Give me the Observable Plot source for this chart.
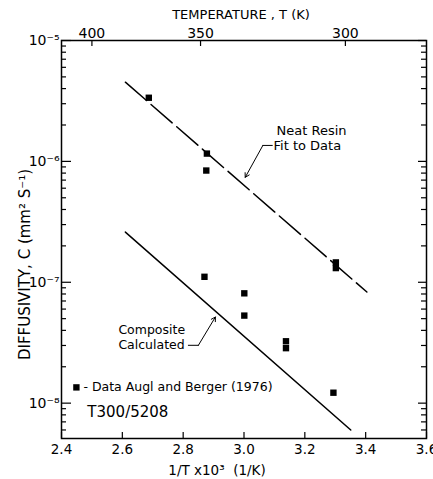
<!DOCTYPE html>
<html><head><meta charset="utf-8">
<script src="https://cdn.jsdelivr.net/npm/d3@7"></script>
<script src="https://cdn.jsdelivr.net/npm/@observablehq/plot@0.6"></script>
<style>body{margin:0;background:#fff} svg{display:block}</style>
</head><body><div id="chart"></div>
<script>
// Neat resin data (Augl and Berger 1976)
const neatX = [2.687, 2.878, 2.876, 3.302, 3.302];
const neatY = [3.36e-6, 1.16e-6, 8.4e-7, 1.46e-7, 1.31e-7];
// Composite data
const compX = [2.870, 3.001, 3.001, 3.138, 3.138, 3.294];
const compY = [1.11e-7, 8.1e-8, 5.3e-8, 3.25e-8, 2.85e-8, 1.22e-8];
// Neat resin fit (dashed) and composite calculated (solid)
const neatFitX = [2.61, 3.404];
const neatFitY = [4.52e-6, 8.3e-8];
const compFitX = [2.61, 3.351];
const compFitY = [2.6e-7, 6.0e-9];
// Axis ticks
const xTicks = [2.4, 2.6, 2.8, 3.0, 3.2, 3.4, 3.6];
const yMajor = [1e-8, 1e-7, 1e-6, 1e-5];
const tempTicks = [400, 350, 300];
const supers = {"-":"\u207B","5":"\u2075","6":"\u2076","7":"\u2077","8":"\u2078"};

const W = 433, H = 479, ML = 61, MR = 7, MT = 40, MB = 41;
const FW = W - ML - MR, FH = H - MT - MB;
const yDomain = [5.1e-9, 1e-5];
const yMinor = [];
for (const d of [1e-9, 1e-8, 1e-7, 1e-6]) for (let k = 2; k <= 9; k++) {
  const v = k * d; if (v >= yDomain[0] && v <= yDomain[1]) yMinor.push(v);
}
const pts = (xs, ys) => xs.map((x, i) => ({x, y: ys[i]}));
const F = "DejaVu Sans";
const yFmt = d => "10" + String(Math.round(Math.log10(d))).split("").map(c => supers[c]).join("");

const chart = Plot.plot({
  width: W, height: H,
  marginLeft: ML, marginRight: MR, marginTop: MT, marginBottom: MB,
  style: {fontFamily: F, fontSize: "13px", background: "white", color: "black"},
  x: {domain: [2.4, 3.6]},
  y: {type: "log", domain: yDomain},
  marks: [
    Plot.frame({stroke: "black", strokeWidth: 1.5}),
    // ticks (inward)
    Plot.tickY(yMajor, {y: d => d, insetRight: FW - 10, strokeWidth: 1.2}),
    Plot.tickY(yMinor, {y: d => d, insetRight: FW - 5, strokeWidth: 1.2}),
    Plot.tickY(yMajor, {y: d => d, insetLeft: FW - 8, strokeWidth: 1.2}),
    Plot.tickY(yMinor, {y: d => d, insetLeft: FW - 5, strokeWidth: 1.2}),
    Plot.tickX(xTicks, {x: d => d, insetTop: FH - 6, strokeWidth: 1.2}),
    Plot.tickX(tempTicks, {x: t => 1000 / t, insetBottom: FH - 6, strokeWidth: 1.2}),
    // axis labels
    Plot.axisY(yMajor, {anchor: "left", tickSize: 0, tickPadding: 2, tickFormat: yFmt, label: null, fontSize: 14}),
    Plot.axisX(xTicks, {anchor: "bottom", tickSize: 0, tickPadding: 6, tickFormat: d3.format(".1f"), label: null, fontSize: 13.5}),
    Plot.axisX(tempTicks.map(t => 1000 / t), {anchor: "top", tickSize: 0, tickPadding: 3, tickFormat: d => Math.round(1000 / d), label: null, fontSize: 14}),
    // titles
    Plot.text(["TEMPERATURE , T (K)"], {frameAnchor: "top", lineAnchor: "middle", dx: -3, dy: -26, fontSize: 13}),
    Plot.text(["1/T x10\u00B3  (1/K)"], {frameAnchor: "bottom", lineAnchor: "middle", dx: -27, dy: 32, fontSize: 13.5}),
    Plot.text(["DIFFUSIVITY, C (mm\u00B2 S\u207B\u00B9)"], {frameAnchor: "left", textAnchor: "middle", lineAnchor: "middle", rotate: -90, dx: -36, dy: 25, fontSize: 15}),
    // fit lines
    Plot.line(pts(neatFitX, neatFitY), {x: "x", y: "y", stroke: "black", strokeWidth: 1.5, strokeDasharray: "28,6"}),
    Plot.line(pts(compFitX, compFitY), {x: "x", y: "y", stroke: "black", strokeWidth: 1.5}),
    // data squares
    Plot.dot(pts(neatX, neatY), {x: "x", y: "y", symbol: "square", r: 3.6, fill: "black", stroke: "none"}),
    Plot.dot(pts(compX, compY), {x: "x", y: "y", symbol: "square", r: 3.6, fill: "black", stroke: "none"}),
    // annotations
    Plot.text(["Neat Resin"], {x: 3.107, y: 1.80e-6, textAnchor: "start", fontSize: 13}),
    Plot.text(["Fit to Data"], {x: 3.097, y: 1.355e-6, textAnchor: "start", fontSize: 13}),
    Plot.line([{x: 3.093, y: 1.355e-6}, {x: 3.062, y: 1.355e-6}], {x: "x", y: "y", strokeWidth: 1}),
    Plot.arrow([0], {x1: 3.062, y1: 1.355e-6, x2: 3.004, y2: 7.38e-7, headLength: 7, strokeWidth: 1}),
    Plot.text(["Composite"], {x: 2.587, y: 4.01e-8, textAnchor: "start", fontSize: 12.5}),
    Plot.text(["Calculated"], {x: 2.587, y: 3.01e-8, textAnchor: "start", fontSize: 12.5}),
    Plot.line([{x: 2.817, y: 3.01e-8}, {x: 2.850, y: 3.01e-8}], {x: "x", y: "y", strokeWidth: 1}),
    Plot.arrow([0], {x1: 2.850, y1: 3.01e-8, x2: 2.906, y2: 5.16e-8, headLength: 7, strokeWidth: 1}),
    // legend
    Plot.dot([0], {x: 2.449, y: 1.35e-8, symbol: "square", r: 3.6, fill: "black", stroke: "none"}),
    Plot.text(["- Data Augl and Berger (1976)"], {x: 2.472, y: 1.35e-8, textAnchor: "start", fontSize: 12.5}),
    Plot.text(["T300/5208"], {x: 2.485, y: 8.43e-9, textAnchor: "start", fontSize: 15})
  ]
});
document.getElementById("chart").appendChild(chart);
</script>
</body></html>
